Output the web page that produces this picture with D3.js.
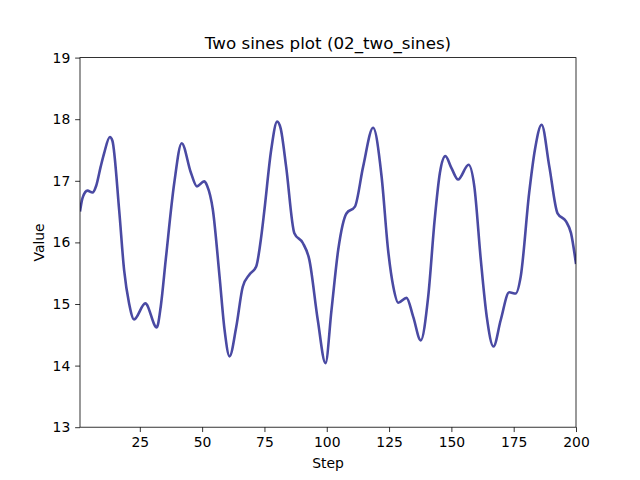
<!DOCTYPE html>
<html>
<head>
<meta charset="utf-8">
<script src="https://cdn.jsdelivr.net/npm/d3@7"></script>
<style>
  html, body { margin: 0; padding: 0; background: #fff; }
  svg { display: block; font-family: "DejaVu Sans", sans-serif; }
</style>
</head>
<body>
<svg id="chart" width="640" height="480"></svg>
<script>
// Data (step, value)
const steps = [1, 2, 4, 6, 7.5, 9.3, 10.7, 13, 14, 16.7, 18.7, 20.7, 22.7, 27.2, 31.8, 33.4, 35.4, 38.8, 41.8,
  45.5, 47.9, 50.8, 52, 54.3, 57, 59, 61, 63.7, 66.3, 69, 71.7, 73.7, 75, 77.7, 80.1, 81.5, 83.7, 87, 90.4,
  93, 96.4, 99.5, 101.9, 104.6, 107.9, 111.3, 114.6, 118.6, 122, 124.6, 126.7, 128.7, 132, 134.7, 137.7,
  140.7, 143.3, 145.4, 147.6, 150, 152.7, 156.9, 159.2, 161.8, 164.2, 166.9, 169.8, 173.2, 175.8, 177.8,
  181.2, 183.5, 186.2, 189.3, 192.6, 196, 198, 200];
const values = [16.50, 16.72, 16.84, 16.81, 16.92, 17.23, 17.45, 17.71, 17.65, 16.53, 15.55, 15.01, 14.75, 15.01, 14.62, 14.96, 15.72, 16.96, 17.61,
  17.13, 16.91, 16.99, 16.92, 16.53, 15.44, 14.58, 14.15, 14.63, 15.28, 15.48, 15.61, 16.09, 16.53, 17.50, 17.96, 17.85, 17.23, 16.15, 15.99,
  15.72, 14.74, 14.04, 14.90, 15.88, 16.47, 16.58, 17.23, 17.86, 17.07, 15.88, 15.28, 15.02, 15.10, 14.79, 14.41,
  15.12, 16.37, 17.13, 17.40, 17.21, 17.02, 17.26, 16.91, 15.72, 14.79, 14.31, 14.74, 15.19, 15.17, 15.44,
  16.80, 17.50, 17.91, 17.23, 16.47, 16.34, 16.15, 15.65];
const xTicks = [25, 50, 75, 100, 125, 150, 175, 200];
const yTicks = [13, 14, 15, 16, 17, 18, 19];
const titleText = "Two sines plot (02_two_sines)";
const xLabelText = "Step";
const yLabelText = "Value";

const W = 640, H = 480;
const margin = { left: 80, right: 64, top: 57.6, bottom: 52.8 };
const svg = d3.select("#chart");
const x = d3.scaleLinear().domain([1, 200]).range([margin.left, W - margin.right]);
const y = d3.scaleLinear().domain([13, 19]).range([H - margin.bottom, margin.top]);

const data = steps.map((s, i) => ({ s, v: values[i] }));

svg.append("clipPath").attr("id", "clip").append("rect")
  .attr("x", margin.left).attr("y", margin.top)
  .attr("width", W - margin.left - margin.right).attr("height", H - margin.top - margin.bottom);

svg.append("path")
  .datum(data)
  .attr("clip-path", "url(#clip)")
  .attr("fill", "none")
  .attr("stroke", "#4a4aa3")
  .attr("stroke-width", 2.6)
  .attr("stroke-linejoin", "round")
  .attr("d", d3.line().x(d => x(d.s)).y(d => y(d.v)).curve(d3.curveMonotoneX));

const tickLen = 4.86, tickPad = 4.86;
const gx = svg.append("g").attr("transform", `translate(0,${H - margin.bottom})`)
  .call(d3.axisBottom(x).tickValues(xTicks).tickFormat(d3.format("d")).tickSize(tickLen).tickPadding(tickPad).tickSizeOuter(0));
const gy = svg.append("g").attr("transform", `translate(${margin.left},0)`)
  .call(d3.axisLeft(y).tickValues(yTicks).tickFormat(d3.format("d")).tickSize(tickLen).tickPadding(tickPad).tickSizeOuter(0));
[gx, gy].forEach(g => {
  g.select(".domain").remove();
  g.selectAll("line").attr("stroke", "#000").attr("stroke-width", 0.8);
  g.selectAll("text").attr("fill", "#000").style("font-size", "13.9px").style("font-family", "DejaVu Sans");
});

// frame
svg.append("rect")
  .attr("x", margin.left).attr("y", margin.top)
  .attr("width", W - margin.left - margin.right).attr("height", H - margin.top - margin.bottom)
  .attr("fill", "none").attr("stroke", "#000").attr("stroke-width", 0.8);

svg.append("text").attr("x", (margin.left + W - margin.right) / 2).attr("y", margin.top - 8.3)
  .attr("text-anchor", "middle").style("font-size", "16.7px").text(titleText);
svg.append("text").attr("x", (margin.left + W - margin.right) / 2).attr("y", 467.5)
  .attr("text-anchor", "middle").style("font-size", "13.9px").text(xLabelText);
svg.append("text").attr("transform", `translate(44,${(margin.top + H - margin.bottom) / 2}) rotate(-90)`)
  .attr("text-anchor", "middle").style("font-size", "13.9px").text(yLabelText);
</script>
</body>
</html>
